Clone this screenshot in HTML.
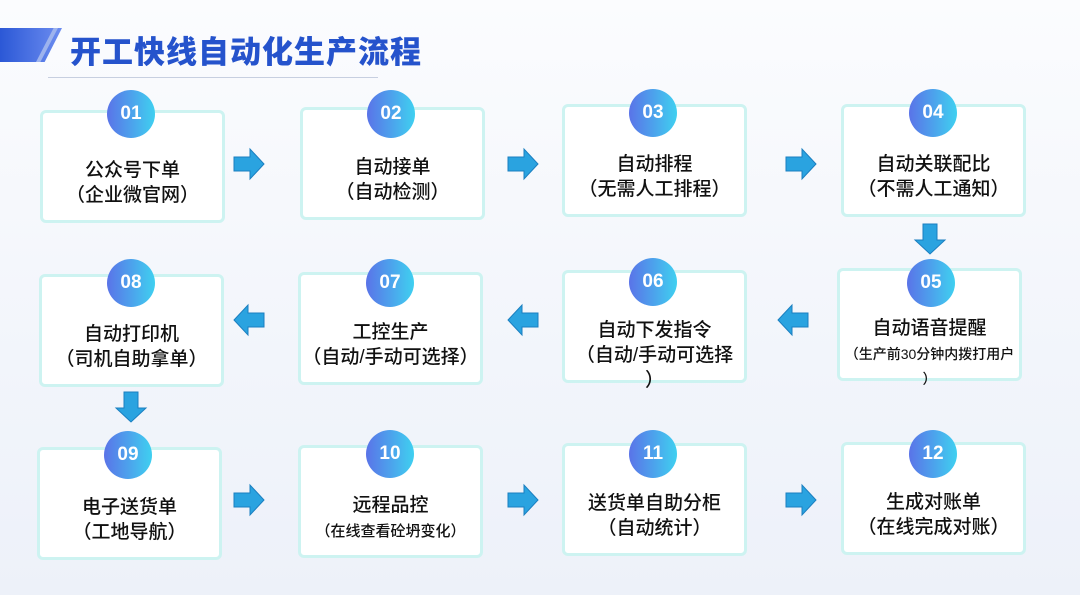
<!DOCTYPE html>
<html><head><meta charset="utf-8"><style>
*{margin:0;padding:0;box-sizing:border-box}
body{width:1080px;height:595px;overflow:hidden;position:relative;background:linear-gradient(180deg,#fbfcfe 0%,#f2f5fb 60%,#edf1f9 100%);font-family:"Liberation Sans","Noto Sans CJK SC",sans-serif}
.box{position:absolute;width:185px;height:113px;background:#fff;border:3px solid #cdf3f1;border-radius:6px;text-align:center;color:#111;font-size:19px;line-height:25px;padding-top:45px;font-weight:500;white-space:nowrap}
.box .s{font-size:14px;line-height:18px}
.c{position:absolute;width:48px;height:48px;border-radius:50%;background:linear-gradient(90deg,#5a73e8,#3fd0f0);color:#fff;font-weight:bold;font-size:19px;line-height:48px;text-align:center}
</style></head><body>
<div style="position:absolute;left:0;top:28px;width:62px;height:34px;background:linear-gradient(90deg,#2b58d6,#6d8df0);clip-path:polygon(0 0,100% 0,72% 100%,0 100%)"></div>
<div style="position:absolute;left:36px;top:28px;width:22px;height:34px;background:#9db3ee;clip-path:polygon(80% 0,100% 0,20% 100%,0 100%)"></div>
<div style="position:absolute;left:70px;top:27px;font-size:31px;font-weight:900;color:#2553cc;letter-spacing:1px">开工快线自动化生产流程</div>
<div style="position:absolute;left:48px;top:77px;width:330px;height:1px;background:#c7cfe0"></div>

<div class="box" style="left:40px;top:110px">公众号下单<br>（企业微官网）</div>
<div class="box" style="left:300px;top:107px">自动接单<br>（自动检测）</div>
<div class="box" style="left:562px;top:104px">自动排程<br>（无需人工排程）</div>
<div class="box" style="left:841px;top:104px">自动关联配比<br>（不需人工通知）</div>

<div class="box" style="left:39px;top:274px">自动打印机<br>（司机自助拿单）</div>
<div class="box" style="left:298px;top:272px">工控生产<br>（自动/手动可选择）</div>
<div class="box" style="left:562px;top:270px">自动下发指令<br>（自动/手动可选择<br>）</div>
<div class="box" style="left:837px;top:268px">自动语音提醒<br><span class="s">（生产前30分钟内拨打用户<br>）</span></div>

<div class="box" style="left:37px;top:447px">电子送货单<br>（工地导航）</div>
<div class="box" style="left:298px;top:445px">远程品控<br><span class="s" style="font-size:15px">（在线查看砼坍变化）</span></div>
<div class="box" style="left:562px;top:443px">送货单自助分柜<br>（自动统计）</div>
<div class="box" style="left:841px;top:442px">生成对账单<br>（在线完成对账）</div>

<div class="c" style="left:107px;top:90px">01</div>
<div class="c" style="left:367px;top:90px">02</div>
<div class="c" style="left:629px;top:89px">03</div>
<div class="c" style="left:909px;top:89px">04</div>
<div class="c" style="left:107px;top:259px">08</div>
<div class="c" style="left:366px;top:259px">07</div>
<div class="c" style="left:629px;top:258px">06</div>
<div class="c" style="left:907px;top:259px">05</div>
<div class="c" style="left:104px;top:431px">09</div>
<div class="c" style="left:366px;top:430px">10</div>
<div class="c" style="left:629px;top:430px">11</div>
<div class="c" style="left:909px;top:430px">12</div>

<svg width="1080" height="595" style="position:absolute;left:0;top:0">
<defs>
<g id="r"><polygon points="0,-7 16,-7 16,-15 30,0 16,15 16,7 0,7" fill="#2aa3e0" stroke="#1b7fc0" stroke-width="1"/></g>
</defs>
<use href="#r" transform="translate(234,164)"/>
<use href="#r" transform="translate(508,164)"/>
<use href="#r" transform="translate(786,164)"/>
<use href="#r" transform="translate(234,500)"/>
<use href="#r" transform="translate(508,500)"/>
<use href="#r" transform="translate(786,500)"/>
<use href="#r" transform="translate(264,320) scale(-1,1)"/>
<use href="#r" transform="translate(538,320) scale(-1,1)"/>
<use href="#r" transform="translate(808,320) scale(-1,1)"/>
<use href="#r" transform="translate(930,224) rotate(90)"/>
<use href="#r" transform="translate(131,392) rotate(90)"/>
</svg>
</body></html>
